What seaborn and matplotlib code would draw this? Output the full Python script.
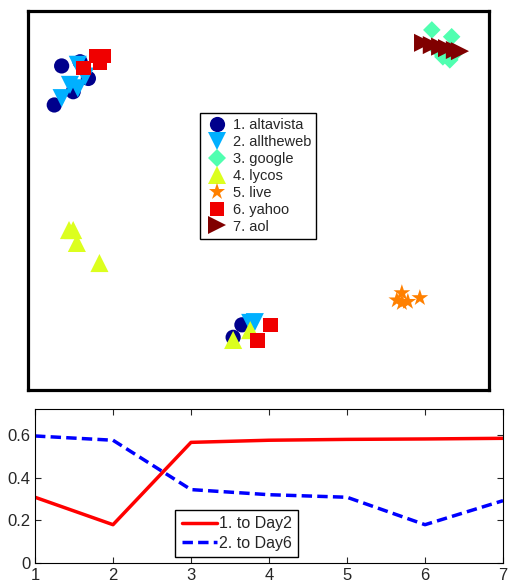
import numpy as np
import pandas as pd
import seaborn as sns
import matplotlib
matplotlib.use('Agg')
import matplotlib.pyplot as plt

sns.set_style('ticks')
plt.rcParams['font.family'] = ['Liberation Sans', 'DejaVu Sans']

# ust panel: arama motorlarinin 2 boyutlu yerlesimi (eksen birimi 0-1)
engines = ['1. altavista', '2. alltheweb', '3. google', '4. lycos', '5. live', '6. yahoo', '7. aol']
altavista_x = [0.073, 0.113, 0.131, 0.098, 0.057, 0.464, 0.445]
altavista_y = [0.855, 0.866, 0.822, 0.787, 0.752, 0.172, 0.139]
alltheweb_x = [0.108, 0.124, 0.091, 0.108, 0.073, 0.482, 0.492]
alltheweb_y = [0.858, 0.827, 0.805, 0.796, 0.770, 0.177, 0.179]
google_x = [0.876, 0.919, 0.889, 0.915, 0.926, 0.900]
google_y = [0.950, 0.932, 0.897, 0.871, 0.889, 0.879]
lycos_x = [0.089, 0.098, 0.106, 0.155, 0.445, 0.482]
lycos_y = [0.422, 0.422, 0.388, 0.335, 0.132, 0.158]
live_x = [0.811, 0.811, 0.824, 0.850, 0.800]
live_y = [0.256, 0.230, 0.233, 0.243, 0.237]
yahoo_x = [0.148, 0.165, 0.156, 0.121, 0.526, 0.498]
yahoo_y = [0.881, 0.881, 0.863, 0.850, 0.172, 0.130]
aol_x = [0.857, 0.876, 0.894, 0.909, 0.926, 0.937]
aol_y = [0.916, 0.910, 0.906, 0.902, 0.897, 0.894]

# alt panel: iki seri
days = [1, 2, 3, 4, 5, 6, 7]
to_day2 = [0.309, 0.180, 0.567, 0.577, 0.581, 0.583, 0.586]
to_day6 = [0.597, 0.577, 0.345, 0.321, 0.309, 0.180, 0.293]

colors = ['#00008c', '#00b0ff', '#50ffb0', '#dcff1e', '#ff8000', '#f00000', '#800000']
markers = ['o', 'v', 'D', '^', '*', 's', '>']
msizes = [120, 170, 80, 170, 160, 110, 170]

xs = [altavista_x, alltheweb_x, google_x, lycos_x, live_x, yahoo_x, aol_x]
ys = [altavista_y, alltheweb_y, google_y, lycos_y, live_y, yahoo_y, aol_y]
df = pd.concat([pd.DataFrame({'x': x, 'y': y, 'engine': e}) for x, y, e in zip(xs, ys, engines)],
               ignore_index=True)

fig = plt.figure(figsize=(5.08, 5.87), dpi=100)
ax1 = fig.add_axes([0.0551, 0.3356, 0.9075, 0.6457])
ax2 = fig.add_axes([0.0689, 0.0409, 0.9213, 0.2624])

sns.scatterplot(data=df, x='x', y='y', hue='engine', style='engine', size='engine',
                palette=dict(zip(engines, colors)), markers=dict(zip(engines, markers)),
                sizes=dict(zip(engines, msizes)),
                hue_order=engines, style_order=engines, size_order=engines,
                linewidth=0, ax=ax1)
ax1.set_xlim(0, 1)
ax1.set_ylim(0, 1)
ax1.set_xticks([])
ax1.set_yticks([])
ax1.set_xlabel('')
ax1.set_ylabel('')
for sp in ax1.spines.values():
    sp.set_visible(True)
    sp.set_linewidth(2.3)
    sp.set_color('black')
h, l = ax1.get_legend_handles_labels()
leg = ax1.legend(h, l, loc='upper left', bbox_to_anchor=(0.373, 0.731), fontsize=10.5,
                 fancybox=False, edgecolor='black', framealpha=1, labelspacing=0.2,
                 handletextpad=0.3, borderpad=0.35, handlelength=1.6, markerscale=1.0,
                 borderaxespad=0)
leg.get_frame().set_linewidth(1.0)

sns.lineplot(x=days, y=to_day2, color='#ff0000', linewidth=2.5, label='1. to Day2', ax=ax2)
sns.lineplot(x=days, y=to_day6, color='#0000ff', linewidth=2.5, linestyle='--',
             label='2. to Day6', ax=ax2)
ax2.lines[1].set_dashes([3, 1.5])
ax2.set_xlim(1, 7)
ax2.set_ylim(0, 0.724)
ax2.set_xticks(days)
ax2.set_yticks([0, 0.2, 0.4, 0.6])
ax2.set_yticklabels(['0', '0.2', '0.4', '0.6'])
ax2.tick_params(direction='in', top=True, right=True, labelsize=12, length=4)
for sp in ax2.spines.values():
    sp.set_visible(True)
    sp.set_linewidth(0.8)
    sp.set_color('black')
leg2 = ax2.legend(loc='upper left', bbox_to_anchor=(0.30, 0.345), fontsize=11.5,
                  fancybox=False, edgecolor='black', framealpha=1, labelspacing=0.3,
                  handletextpad=0.1, borderpad=0.4, handlelength=2.2, borderaxespad=0)
leg2.get_frame().set_linewidth(1.0)

fig.savefig('out.png', dpi=100)
